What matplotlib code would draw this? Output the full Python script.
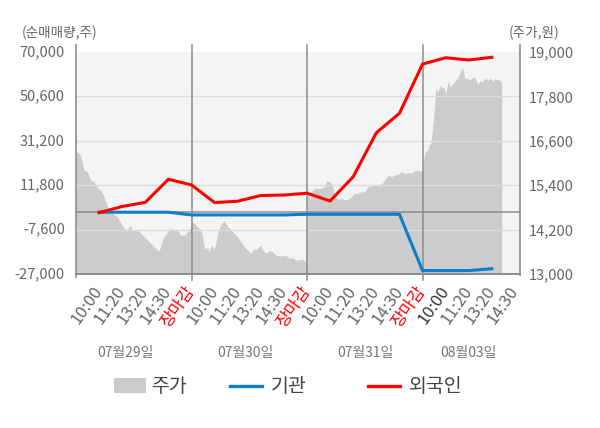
import matplotlib
matplotlib.use("Agg")
import matplotlib.pyplot as plt
import matplotlib.transforms as mtransforms
from matplotlib.patches import Rectangle
from matplotlib.lines import Line2D

plt.rcParams['font.family'] = ['Noto Sans CJK KR', 'DejaVu Sans']

# ---------------- data ----------------
days = ['07월29일', '07월30일', '07월31일', '08월03일']
tick_labels = ['10:00', '11:20', '13:20', '14:30', '장마감',
               '10:00', '11:20', '13:20', '14:30', '장마감',
               '10:00', '11:20', '13:20', '14:30', '장마감',
               '10:00', '11:20', '13:20', '14:30']
tick_slots = list(range(1, 20))

# net buying (shares), one value per time slot 1..18
line_slots = list(range(1, 19))
foreign = [-200, 2500, 4300, 14400, 11900, 4200, 4800, 7300, 7500, 8300,
           4900, 15500, 34700, 43200, 64700, 67500, 66500, 67700]
institution = [0, 0, 0, 0, -1200, -1200, -1200, -1200, -1200, -900,
               -900, -900, -900, -900, -25500, -25500, -25500, -24700]

# stock price (KRW), intraday, x in time-slot units
price_x = [0, 0.13, 0.2, 0.27, 0.35, 0.49, 0.63, 0.78, 0.92, 1.07, 1.21, 1.36, 1.5, 1.65, 1.79,
           1.93, 2.08, 2.22, 2.34, 2.44, 2.65, 2.8, 2.94, 3.09, 3.23, 3.38, 3.52, 3.61, 3.69,
           3.81, 3.95, 4.1, 4.24, 4.39, 4.53, 4.68, 4.82, 4.96,
           5.01, 5.12, 5.26, 5.40, 5.48, 5.55, 5.62, 5.69, 5.76, 5.84, 5.91, 5.98, 6.05, 6.13,
           6.20, 6.27, 6.34, 6.41, 6.49, 6.56, 6.70, 6.85, 6.99, 7.14, 7.28, 7.42, 7.57, 7.71,
           7.79, 7.93, 8.00, 8.07, 8.22, 8.36, 8.51, 8.65, 8.80, 8.94, 9.08, 9.23, 9.37, 9.52,
           9.66, 9.81, 9.95,
           10.03, 10.12, 10.19, 10.33, 10.48, 10.62, 10.76, 10.84, 10.98, 11.10, 11.20, 11.34,
           11.49, 11.63, 11.77, 11.92, 12.06, 12.21, 12.35, 12.50, 12.64, 12.79, 12.93, 13.07,
           13.22, 13.36, 13.51, 13.65, 13.80, 13.94, 14.08, 14.23, 14.37, 14.52, 14.66, 14.81,
           14.95,
           15.03, 15.09, 15.14, 15.23, 15.29, 15.35, 15.40, 15.46, 15.52, 15.58, 15.66, 15.72,
           15.78, 15.84, 15.91, 16.01, 16.10, 16.20, 16.27, 16.39, 16.49, 16.59, 16.67, 16.75,
           16.82, 16.92, 17.06, 17.21, 17.31, 17.40, 17.50, 17.60, 17.71, 17.83, 17.93, 18.03,
           18.15, 18.29, 18.36, 18.43]
price = [16300, 16270, 16220, 16000, 15810, 15770, 15540, 15500, 15330, 15270, 15090, 14820,
         14680, 14600, 14550, 14380, 14240, 14190, 14320, 14190, 14190, 14110, 14010, 13920,
         13840, 13740, 13650, 13630, 13840, 14010, 14110, 14240, 14190, 14190, 14050, 14050,
         14140, 14240,
         14410, 14370, 14280, 14190, 14010, 13740, 13650, 13740, 13600, 13740, 13780, 13650,
         13830, 14100, 14235, 14320, 14390, 14440, 14370, 14280, 14210, 14100, 14010, 13870,
         13740, 13650, 13560, 13695, 13650, 13740, 13780, 13650, 13560, 13630, 13600, 13510,
         13490, 13490, 13510, 13420, 13450, 13380, 13380, 13400, 13330,
         15360, 15000, 15225, 15316, 15316, 15316, 15360, 15520, 15495, 15405, 15090, 15018,
         15045, 15000, 15018, 15090, 15180, 15180, 15225, 15225, 15360, 15380, 15405, 15405,
         15430, 15520, 15676, 15630, 15676, 15700, 15765, 15720, 15740, 15720, 15790, 15810,
         15765,
         16036, 16216, 16306, 16352, 16487, 16532, 16712, 17073, 17523, 18019, 17928, 18019,
         18109, 18019, 18063, 17857, 18217, 18063, 18109, 18198, 18289, 18379, 18541, 18560,
         18289, 18289, 18244, 18333, 18244, 18127, 18217, 18198, 18289, 18244, 18289, 18217,
         18271, 18244, 18244, 18154]

left_ticks = [-27000, -7600, 11800, 31200, 50600, 70000]
right_ticks = [13000, 14200, 15400, 16600, 17800, 19000]
day_label_x = [2.12, 7.32, 12.51, 17.0]
day_bounds = [5, 10, 15]
legend_labels = ['주가', '기관', '외국인']

# ---------------- figure ----------------
W, H = 600, 428
fig = plt.figure(figsize=(6, 4.28), dpi=100)
ax2 = fig.add_axes([76 / W, 1 - 274 / H, 444 / W, 222 / H])
ax = ax2.twinx()
ax2.set_zorder(0)
ax.set_zorder(1)
ax.patch.set_visible(False)
ax2.set_facecolor('#f4f4f4')

XMAX = 19.22
gray_txt = '#666666'
line_gray = '#8c8c8c'
blue = '#0a7dcc'
red = '#ff0000'
area = '#cccccc'

# price area (right scale)
ax2.fill_between(price_x, 13000, price, color=area, linewidth=0)
ax2.set_ylim(13000, 19000)
ax2.set_xlim(0, XMAX)

# left axis: net buying
ax.set_ylim(-27000, 70000)
for v in left_ticks[1:-1]:
    ax.axhline(v, color='#dcdcdc', lw=1, zorder=1)
ax.axhline(0, color=line_gray, lw=1.1, zorder=2)

ax.plot(line_slots, institution, color=blue, lw=2.2, zorder=4)
ax.plot(line_slots, foreign, color=red, lw=2.2, zorder=5)
ax.set_xlim(0, XMAX)

# separators and frame lines
trans = mtransforms.blended_transform_factory(ax.transData, ax.transAxes)
for b in day_bounds:
    ax.plot([b, b], [-0.027, 1.0315], transform=trans, color=line_gray, lw=1.1,
            clip_on=False, zorder=3)
ax.plot([0, 0], [-0.014, 1.0315], transform=trans, color=line_gray, lw=1.2, clip_on=False, zorder=3)
ax.plot([XMAX, XMAX], [-0.005, 1.0315], transform=trans, color=line_gray, lw=1.2, clip_on=False, zorder=3)
ax.plot([0, XMAX], [0, 0], transform=trans, color=line_gray, lw=1.4, clip_on=False, zorder=3)

for a in (ax, ax2):
    for s in a.spines.values():
        s.set_visible(False)

ax.yaxis.set_visible(False)
ax2.yaxis.tick_right()
ax2.set_yticks(right_ticks)
ax2.set_yticklabels([f'{v:,}' for v in right_ticks])
ax2.tick_params(axis='y', length=0, pad=6, labelsize=10.5, labelcolor=gray_txt)

tl = mtransforms.blended_transform_factory(ax2.transAxes, ax.transData)
for v in left_ticks:
    ax.text(-0.025, v, f'{v:,}', transform=tl, ha='right', va='center',
            fontsize=10.5, color=gray_txt)

# x tick labels
ax2.set_xticks(tick_slots)
ax2.set_xticklabels(tick_labels, rotation=55, ha='right', va='center',
                    rotation_mode='anchor')
ax2.tick_params(axis='x', length=0, pad=10, labelsize=12, labelcolor=gray_txt)
for i, lab in enumerate(ax2.get_xticklabels()):
    if tick_labels[i] == '장마감':
        lab.set_color(red)
    elif i == 15:
        lab.set_color('#333333')

# day labels
for x, d in zip(day_label_x, days):
    ax.text(x, -0.356, d, transform=trans, ha='center', va='center', fontsize=10, color='#777777')

# axis unit titles
fig.text(22 / W, 1 - 33 / H, '(순매매량,주)', ha='left', va='center', fontsize=9.8, color=gray_txt)
fig.text(509 / W, 1 - 33 / H, '(주가,원)', ha='left', va='center', fontsize=9.8, color=gray_txt)

# legend (drawn item by item to match the reference spacing)
ly = 1 - 386 / H
fig.patches.append(Rectangle((114 / W, 1 - 393 / H), 32 / W, 15 / H, transform=fig.transFigure,
                             facecolor=area, edgecolor='none'))
fig.lines.append(Line2D([230 / W, 262 / W], [ly, ly], transform=fig.transFigure, color=blue, lw=2.4))
fig.lines.append(Line2D([368 / W, 400 / W], [ly, ly], transform=fig.transFigure, color=red, lw=2.4))
for xpx, lab in zip([151, 270.5, 409], legend_labels):
    fig.text(xpx / W, ly, lab, ha='left', va='center', fontsize=14, color='#444444')

fig.savefig('out.png', dpi=100)
